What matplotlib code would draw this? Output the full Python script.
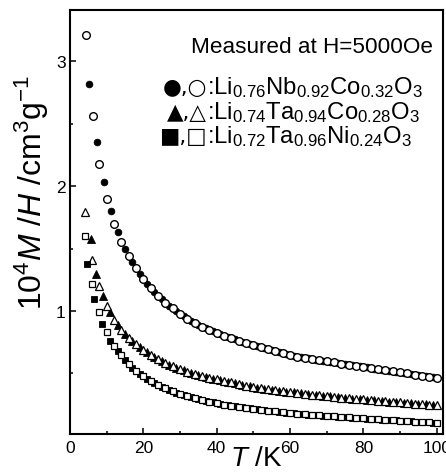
import matplotlib
matplotlib.use('Agg')
import matplotlib.pyplot as plt
import matplotlib.transforms as mtransforms
from matplotlib.ticker import MultipleLocator, FormatStrFormatter

plt.rcParams['font.family'] = ['Liberation Sans', 'DejaVu Sans']
plt.rcParams['mathtext.fontset'] = 'custom'
plt.rcParams['mathtext.rm'] = 'Liberation Sans'
plt.rcParams['mathtext.it'] = 'Liberation Sans:italic'

# temperature grids (K)
t_even = [10, 12, 14, 16, 18, 20, 22, 24, 26, 28, 30, 32, 34, 36, 38, 40, 42, 44,
          46, 48, 50, 52, 54, 56, 58, 60, 62, 64, 66, 68, 70, 72, 74, 76, 78, 80,
          82, 84, 86, 88, 90, 92, 94, 96, 98, 100]
t_odd = [13, 15, 17, 19, 21, 23, 25, 27, 29, 31, 33, 35, 37, 39, 41, 43, 45, 47,
         49, 51, 53, 55, 57, 59, 61, 63, 65, 67, 69, 71, 73, 75, 77, 79, 81, 83,
         85, 87, 89, 91, 93, 95, 97, 99]

# Li0.76Nb0.92Co0.32O3
t_nb_open = [4.4, 6.4, 8] + t_even
m_nb_open = [3.21, 2.56, 2.18, 1.90, 1.70, 1.555, 1.44, 1.345, 1.26, 1.185, 1.12,
             1.065, 1.02, 0.976, 0.937, 0.903, 0.874, 0.848, 0.824, 0.802, 0.782,
             0.763, 0.745, 0.728, 0.711, 0.694, 0.677, 0.661, 0.645, 0.635, 0.626,
             0.616, 0.607, 0.598, 0.589, 0.579, 0.570, 0.561, 0.552, 0.543, 0.534,
             0.525, 0.517, 0.509, 0.500, 0.491, 0.483, 0.474, 0.465]
t_nb_fill = [5.3, 7.3, 9.2, 11.1] + t_odd
m_nb_fill = [2.82, 2.35, 2.03, 1.80, 1.63, 1.50, 1.39, 1.30, 1.22, 1.152, 1.092,
             1.042, 0.998, 0.956, 0.92, 0.888, 0.861, 0.836, 0.813, 0.792, 0.772,
             0.754, 0.736, 0.72, 0.703, 0.686, 0.669, 0.653, 0.64, 0.63, 0.621,
             0.611, 0.602, 0.593, 0.584, 0.574, 0.565, 0.556, 0.548, 0.539, 0.53,
             0.521, 0.513, 0.504, 0.496, 0.487, 0.479, 0.47]

# Li0.74Ta0.94Co0.28O3
t_ta_open = [4.1, 6.1, 8] + t_even
m_ta_open = [1.79, 1.41, 1.20, 1.04, 0.925, 0.85, 0.785, 0.735, 0.69, 0.65, 0.615,
             0.585, 0.558, 0.535, 0.515, 0.497, 0.481, 0.466, 0.452, 0.44, 0.428,
             0.417, 0.403, 0.39, 0.382, 0.374, 0.366, 0.359, 0.352, 0.345, 0.338,
             0.331, 0.325, 0.319, 0.313, 0.307, 0.302, 0.297, 0.292, 0.287, 0.282,
             0.277, 0.273, 0.268, 0.264, 0.259, 0.255, 0.25, 0.245]
t_ta_fill = [5.6, 7.1, 9.1, 10.9] + t_odd
m_ta_fill = [1.58, 1.30, 1.12, 0.99, 0.885, 0.815, 0.76, 0.71, 0.67, 0.632, 0.6,
             0.571, 0.546, 0.525, 0.506, 0.489, 0.473, 0.459, 0.446, 0.434, 0.422,
             0.41, 0.396, 0.386, 0.378, 0.37, 0.362, 0.355, 0.348, 0.341, 0.334,
             0.328, 0.322, 0.316, 0.31, 0.304, 0.299, 0.294, 0.289, 0.284, 0.279,
             0.275, 0.27, 0.266, 0.261, 0.257, 0.252, 0.247]

# Li0.72Ta0.96Ni0.24O3
t_ni_open = [4.1, 6.1, 8] + t_even
m_ni_open = [1.60, 1.216, 0.99, 0.83, 0.72, 0.645, 0.575, 0.52, 0.478, 0.44, 0.408,
             0.38, 0.356, 0.335, 0.317, 0.301, 0.287, 0.274, 0.262, 0.251, 0.241,
             0.232, 0.224, 0.216, 0.209, 0.202, 0.196, 0.19, 0.184, 0.179, 0.174,
             0.169, 0.165, 0.161, 0.157, 0.153, 0.149, 0.145, 0.14, 0.137, 0.133,
             0.13, 0.126, 0.122, 0.118, 0.115, 0.111, 0.108, 0.105]
t_ni_fill = [4.7, 6.6, 8.8, 10.9] + t_odd
m_ni_fill = [1.376, 1.096, 0.896, 0.76, 0.68, 0.61, 0.545, 0.498, 0.458, 0.424,
             0.394, 0.368, 0.345, 0.326, 0.309, 0.294, 0.28, 0.268, 0.256, 0.246,
             0.236, 0.228, 0.22, 0.212, 0.205, 0.199, 0.193, 0.187, 0.181, 0.176,
             0.171, 0.167, 0.163, 0.159, 0.155, 0.151, 0.147, 0.143, 0.138, 0.135,
             0.131, 0.128, 0.124, 0.12, 0.116, 0.113, 0.109, 0.106]

leyenda_simbolos = ['●,○', '▲,△', '■,□']
leyenda_formulas = [r':$\mathregular{Li_{0.76}Nb_{0.92}Co_{0.32}O_3}$',
                    r':$\mathregular{Li_{0.74}Ta_{0.94}Co_{0.28}O_3}$',
                    r':$\mathregular{Li_{0.72}Ta_{0.96}Ni_{0.24}O_3}$']

fig = plt.figure(figsize=(4.46, 4.77), dpi=100)
ax = fig.add_axes([70 / 446, 42 / 477, 373 / 446, 424 / 477])

ax.plot(t_nb_fill, m_nb_fill, 'o', ms=4.8, mfc='black', mec='black', mew=0.6, zorder=2)
ax.plot(t_nb_open, m_nb_open, 'o', ms=5.5, mfc='white', mec='black', mew=1.0, zorder=3)
ax.plot(t_ta_fill, m_ta_fill, '^', ms=5.2, mfc='black', mec='black', mew=0.6, zorder=4)
ax.plot(t_ta_open, m_ta_open, '^', ms=5.8, mfc='white', mec='black', mew=0.9, zorder=5)
ax.plot(t_ni_fill, m_ni_fill, 's', ms=4.6, mfc='black', mec='black', mew=0.6, zorder=6)
ax.plot(t_ni_open, m_ni_open, 's', ms=5.0, mfc='white', mec='black', mew=0.9, zorder=7)

ax.set_xlim(0, 101.7)
ax.set_ylim(0.015, 3.41)
ax.xaxis.set_major_locator(MultipleLocator(20))
ax.xaxis.set_minor_locator(MultipleLocator(10))
ax.yaxis.set_major_locator(MultipleLocator(1))
ax.yaxis.set_minor_locator(MultipleLocator(0.5))
ax.xaxis.set_major_formatter(FormatStrFormatter('%d'))
ax.yaxis.set_major_formatter(FormatStrFormatter('%d'))
ax.tick_params(which='both', direction='in', top=False, right=False, width=1.1, labelsize=12.5)
ax.tick_params(which='major', length=4)
ax.tick_params(which='minor', length=2.5)
ax.tick_params(axis='x', pad=4)
ax.tick_params(axis='y', pad=3)
for s in ax.spines.values():
    s.set_linewidth(1.5)

# el "0" del eje x esta corrido a la izquierda en el original
lab0 = ax.xaxis.get_major_ticks()[0].label1
lab0.set_transform(lab0.get_transform() + mtransforms.ScaledTranslation(-9 / 100, 0, fig.dpi_scale_trans))

ax.set_xlabel(r'$\mathit{T}\ \mathregular{/K}$', fontsize=20)
ax.xaxis.set_label_coords(0.5, -0.026)
ax.set_ylabel(r'$\mathregular{10^4}\mathit{M}\ \mathregular{/}\mathit{H}\ \mathregular{/cm^3g^{-1}}$', fontsize=23)
ax.yaxis.set_label_coords(-0.05, 0.573)

ax.text(0.973, 0.902, 'Measured at H=5000Oe', transform=ax.transAxes,
        ha='right', va='baseline', fontsize=16.2)
for i in range(3):
    y = 0.804 - i * 0.058
    ax.text(0.367, y, leyenda_simbolos[i], transform=ax.transAxes, ha='right',
            va='baseline', fontsize=15.5, family='DejaVu Sans')
    ax.text(0.367, y, leyenda_formulas[i], transform=ax.transAxes, ha='left',
            va='baseline', fontsize=17.2)

fig.savefig('out.png', dpi=100)
